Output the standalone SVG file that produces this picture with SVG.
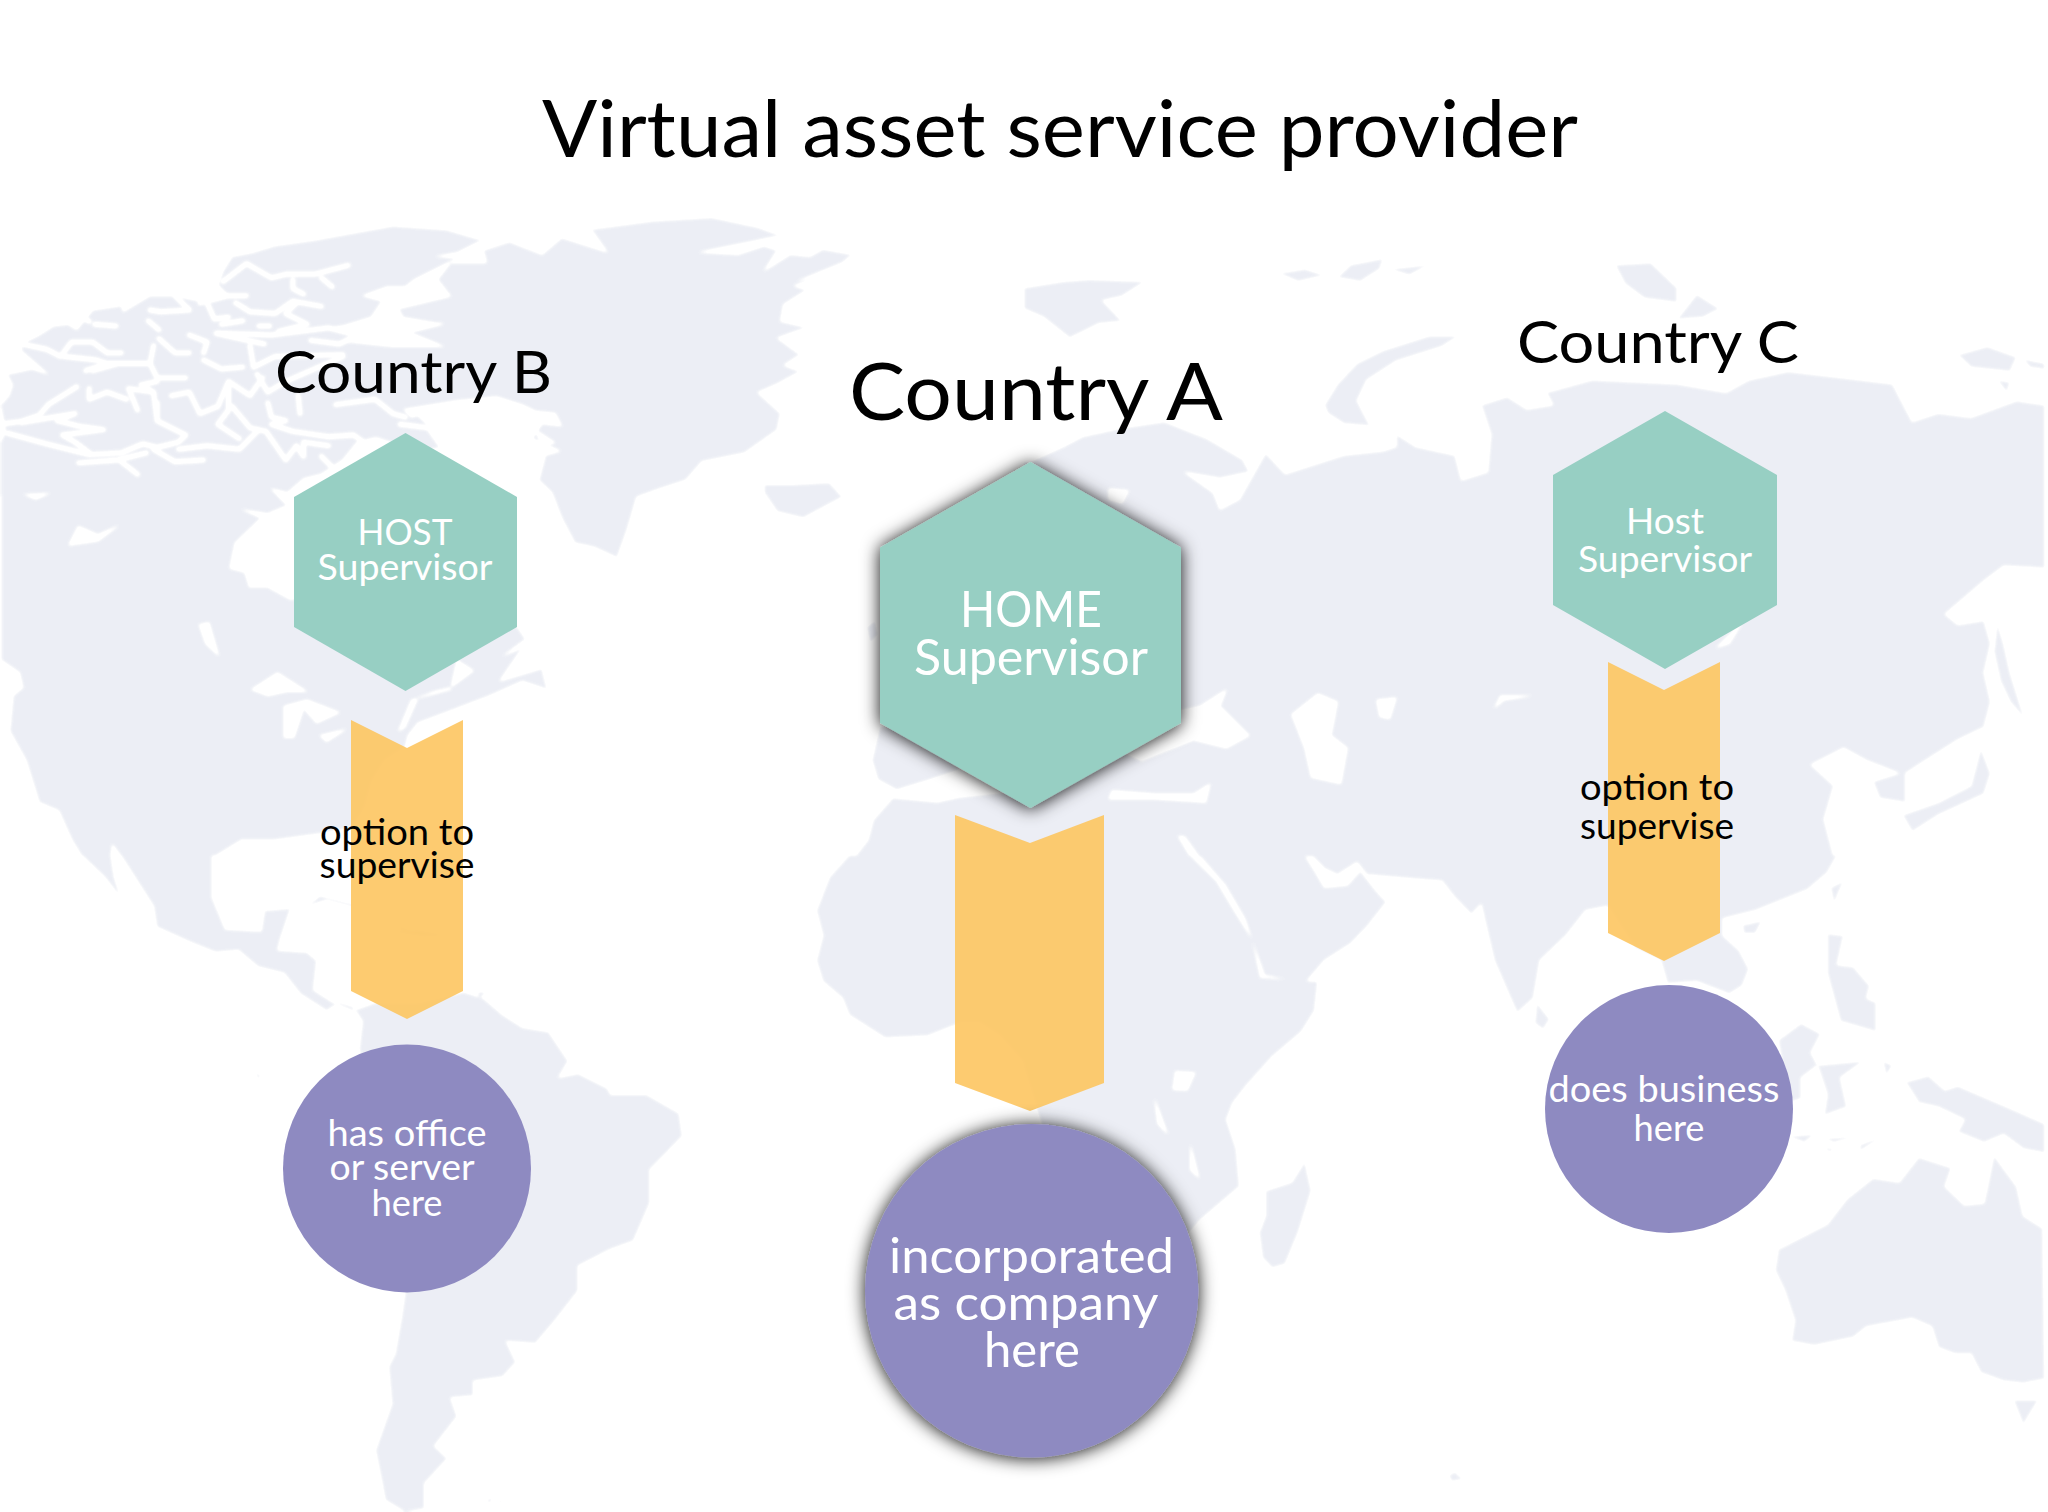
<svg xmlns="http://www.w3.org/2000/svg" width="2048" height="1512" viewBox="0 0 2048 1512">
<style>
.land{fill:#e9ecf3}
.sea{fill:#fff}
.ch{fill:none;stroke:#fff;stroke-width:11;stroke-linejoin:round;stroke-linecap:round}
.hex{fill:#97cfc3}
.arrow{fill:#fdc561;fill-opacity:.9}
.blob{fill:#8e8ac1}
text{font-family:"Lato","Open Sans","Liberation Sans",sans-serif;text-anchor:middle}
.w{fill:#fff}
.k{fill:#000}
</style>
<defs>
<filter id="sh" x="-20%" y="-20%" width="140%" height="140%"><feDropShadow dx="0" dy="1" stdDeviation="9" flood-color="#111" flood-opacity=".95"/></filter>
<filter id="coast" filterUnits="userSpaceOnUse" x="0" y="0" width="2048" height="1512" color-interpolation-filters="sRGB">
<feGaussianBlur stdDeviation="1.4"/>
<feColorMatrix type="matrix" values="0 0 0 0 .914  0 0 0 0 .925  0 0 0 0 .953  -20 0 0 0 19.14"/>
</filter>
</defs>
<rect width="2048" height="1512" fill="#fff"/>
<g id="map" filter="url(#coast)">
<rect class="sea" width="2048" height="1512"/>
<g transform="translate(0 200) scale(.6531 .41837)">
<path class="land" d="M640,515 660,545 680,590 650,600 640,620 610,600 600,580 560,560 520,600 490,640 470,660 440,700 415,690 440,730 410,750 370,740 400,760 380,790 360,820 352,880 375,890 382,925 410,925 445,955 600,900 792,1020 805,1050 770,1090 800,1070 765,1150 830,1120 838,1170 800,1150 750,1185 700,1215 640,1250 625,1280 620,1310 590,1340 570,1390 560,1450 540,1500 490,1515 420,1530 370,1530 330,1568 185,1568 172,1540 170,1568 125,1568 110,1530 90,1460 60,1440 40,1340 15,1270 20,1185 35,1165 30,1130 2,1100 2,590 400,610Z"/>
<path class="land" d="M1000,50 1090,42 1160,65 1195,85 1150,100 1070,125 1130,130 1170,110 1190,120 1170,170 1210,130 1240,135 1260,118 1305,130 1290,150 1220,195 1255,185 1215,205 1235,215 1200,250 1195,290 1235,305 1190,330 1225,370 1200,395 1225,410 1190,440 1160,460 1195,510 1190,550 1140,605 1075,625 1050,670 1010,690 975,710 960,790 945,855 910,830 880,820 860,760 845,700 825,670 835,610 858,600 815,570 830,535 860,540 850,510 820,505 800,490 760,470 700,480 620,500 560,480 510,490 470,470 440,450 420,470 410,420 430,370 470,345 540,340 600,350 680,350 625,315 680,295 620,290 610,260 690,230 670,190 690,150 745,150 740,120 780,100 830,130 860,90 930,125 905,70Z"/>
<path class="land" d="M1170,680 1215,680 1270,675 1290,710 1230,760 1190,745 1170,700Z M1327,1020 1340,1004 1345,1040 1332,1060Z M1347,1257 1335,1339 1344,1386 1373,1410 1424,1386 1470,1362 1470,1267Z M1367,1429 1337,1482 1329,1530 1310,1568 1570,1568 1570,1410 1470,1427 1435,1439Z"/>
<path class="sea" d="M20,660 90,670 85,695 55,715 30,700Z M105,825 120,780 150,800 182,778 150,815Z M305,1015 320,1010 335,1090 315,1060Z M385,1170 425,1130 470,1175 440,1175 410,1185Z M435,1210 470,1195 520,1225 485,1250 465,1215 450,1285 435,1285Z M490,1280 530,1265 500,1295Z M700,1100 725,1125 690,1165 665,1175 640,1190 620,1260 610,1270 630,1195 690,1170Z M820,550 850,580 830,590Z"/>
</g>
<g transform="translate(0 210) scale(.35714)">
<path class="land" d="M2,800 2,650 15,620 2,545 25,520 35,490 20,460 90,445 135,460 60,395 60,375 110,350 150,325 190,320 215,335 260,280 340,268 345,285 420,240 490,240 580,260 640,240 610,210 625,170 650,130 705,120 770,100 880,85 960,70 1100,45 1250,55 1350,85 1280,120 1220,130 1280,135 1160,195 1135,215 1085,215 1015,240 1070,255 1040,300 960,325 920,330 1000,348 990,365 940,378 1000,420 1170,600 1100,625 1000,650 960,700 900,740 820,760Z"/>
<path class="sea" d="M1040,300 1110,280 1125,300 1240,320 1140,345 1180,372 1000,365 990,345Z"/>
<path class="ch" d="M0,600 60,592 110,575 135,545 215,495 M60,595 210,570 160,590 220,605 290,615 175,630 210,650 250,680 M20,625 130,655 250,685 340,680 400,655 440,665 500,650 520,630 440,590 440,540 M220,708 330,700 410,680 M340,705 385,740 M430,670 490,705 570,700 M500,670 580,660 670,670 M440,590 430,510 395,490 440,480 M430,510 360,500 385,560 M250,500 250,530 300,510 355,530 M480,520 530,510 560,570 610,550 640,480 700,520 735,470 M640,480 640,560 610,600 670,640 M650,550 700,610 745,620 800,700 M670,670 720,620 M750,540 760,580 800,590 760,600 820,620 920,635 990,630 1040,665 M720,460 750,510 800,480 960,410 M835,520 840,570 M940,545 1050,530 1100,570 1135,580 M1120,600 1200,610 1235,660 M800,700 830,660 850,690 850,650 920,660 M900,690 930,720 M60,375 130,390 170,410 200,370 260,370 300,400 340,400 M180,410 270,420 300,430 240,450 M300,430 420,430 430,380 M260,450 330,430 400,430 M420,430 440,470 520,470 M445,360 490,400 530,400 M530,350 580,370 570,400 M570,420 620,445 680,440 M605,345 670,360 740,375 M700,380 710,440 770,410 960,405 M640,240 560,260 M580,260 600,305 640,300 M490,240 530,280 450,285 420,280 M690,240 620,240 M660,260 700,285 770,290 820,255 900,270 M830,260 800,290 860,320 780,340 M620,320 680,310 M610,345 760,350 920,330 1000,350 950,375 870,365 M625,200 690,150 760,190 800,180 880,180 975,155 M900,190 930,215 M820,195 820,220 850,235 M230,300 250,312 M265,320 325,325 M415,310 445,335 M725,325 755,325"/>
</g>
<g transform="translate(1024 200) scale(.6531 .41837)">
<path class="land" d="M0,210 60,195 100,190 185,195 150,230 120,240 150,290 115,295 70,330 30,280 0,260Z M460,490 480,440 510,390 550,360 620,325 665,325 640,350 570,385 525,430 510,480 530,540 490,535 465,510Z M390,175 430,165 460,180 420,195Z M480,185 500,155 550,140 545,165 515,195Z M560,165 620,155 590,180Z M905,155 960,150 1000,210 1000,245 950,235 920,200Z M1000,285 1030,225 1065,260 1040,280Z M1430,370 1475,350 1520,375 1510,410 1450,400Z M1530,380 1563,390 1563,405 1540,400Z M1490,430 1510,435 1505,460Z M1485,1080 1490,1010 1500,1060 1510,1130 1532,1240 1510,1200 1495,1150Z M1345,1470 1400,1440 1450,1400 1465,1310 1480,1370 1470,1420 1400,1470 1360,1510Z"/>
<path class="land" d="M-2,625 10,625 60,590 90,565 150,545 215,530 280,570 335,620 345,650 300,665 245,650 290,700 300,740 330,715 350,660 370,605 400,655 430,640 490,610 550,600 570,590 570,560 600,590 660,610 670,670 710,650 715,560 700,490 740,470 770,500 810,490 800,460 870,430 1000,440 1075,460 1110,430 1170,410 1280,430 1330,440 1360,530 1400,510 1450,520 1520,480 1563,490 1563,880 1500,875 1470,910 1440,950 1410,990 1430,1015 1470,1005 1480,1060 1470,1130 1480,1200 1470,1260 1430,1290 1380,1340 1350,1370 1350,1440 1310,1430 1300,1390 1340,1370 1290,1340 1255,1310 1205,1350 1240,1400 1225,1480 1240,1570 -2,1570Z"/>
<path class="sea" d="M270,1210 310,1170 300,1210 345,1280 310,1310 260,1290 180,1340 140,1310 190,1240 Z M410,1230 450,1180 480,1200 470,1280 495,1310 485,1395 440,1380 430,1310Z M540,1195 570,1190 560,1240 545,1235Z M720,1215 730,1185 778,1185 735,1195Z M1060,1070 1100,1010 1080,1060Z M130,690 160,695 150,725 130,715Z M135,1412 200,1420 260,1420 285,1395 278,1440 262,1438 200,1432 130,1432Z M236,1520 246,1522 268,1570 255,1570Z"/>
</g>
<g transform="translate(0 856) scale(.6531 .41837)">
<path class="land" d="M125,-2 160,50 185,100 175,50 170,-2ZM185,-2 235,120 240,170 290,205 330,230 365,225 395,265 435,280 460,330 500,370 520,350 540,360 555,395 550,460 620,1045 615,1100 605,1190 595,1220 600,1310 575,1420 590,1540 620,1568 650,1560 650,1500 685,1440 665,1410 700,1340 690,1295 725,1290 725,1255 770,1245 790,1210 775,1160 820,1165 850,1110 885,1040 885,980 935,940 970,920 995,830 995,750 1020,710 1045,670 1040,615 990,570 935,570 930,555 885,520 855,530 870,490 840,420 800,410 770,380 740,340 710,325 640,350 575,350 540,370 510,350 480,320 485,250 470,230 425,225 430,195 445,125 405,130 400,180 345,175 325,100 325,-2Z"/>
<path class="land" d="M1300,-2 1270,50 1250,130 1260,190 1250,250 1260,300 1290,340 1300,380 1355,435 1420,430 1470,400 1500,400 1530,430 1570,500 1570,-2Z M470,120 490,95 540,115 590,150 640,185 620,180 560,130 500,105Z M590,180 640,175 690,190 650,195Z M390,515 400,525 395,535Z M745,1540 755,1530 750,1550Z M765,1540 778,1535 760,1552Z M730,325 745,325 735,340Z"/>
</g>
<g transform="translate(1024 856) scale(.6531 .41837)">
<path class="land" d="M-2,-2 -2,500 30,660 200,1000 270,870 300,830 330,790 325,700 310,630 320,590 340,550 380,480 425,420 445,370 450,300 362,290 350,200 322,130 295,60 255,-2Z"/>
<path class="land" d="M268,-2 308,70 338,150 368,285 430,305 460,250 500,210 525,170 555,110 540,85 515,35 495,70 460,75 445,35 430,-2Z M440,-2 460,30 480,45 510,15 525,45 600,55 640,60 660,100 685,140 700,115 705,150 720,250 745,340 755,375 780,340 790,250 830,190 860,130 893,120 935,220 975,250 985,305 1030,300 1080,330 1100,310 1110,270 1095,225 1070,190 1070,150 1120,130 1160,105 1200,80 1230,40 1245,-2Z M785,350 805,390 795,415 782,400Z M1100,165 1130,155 1120,185 1102,185Z M1235,75 1255,60 1240,115Z M1155,440 1190,400 1220,425 1205,470 1215,500 1190,530 1190,580 1170,590Z M1230,185 1255,190 1245,260 1270,265 1295,310 1290,340 1305,350 1305,420 1250,395 1230,280Z M1215,500 1285,490 1250,530 1260,600 1225,620 1230,570Z M1315,490 1330,500 1320,525Z M1350,540 1385,525 1410,560 1430,550 1520,610 1563,640 1563,710 1530,700 1500,665 1470,685 1430,660 1440,630 1400,600 1370,590Z M1170,670 1210,665 1195,685Z M1225,675 1275,670 1240,685Z M1280,690 1315,670 1280,705Z M1220,695 1240,700 1235,708Z M650,1480 660,1472 672,1490 655,1495Z M480,290 490,292 480,297Z M1515,1300 1553,1300 1530,1360Z M1155,940 1230,880 1260,820 1300,770 1340,780 1370,720 1420,745 1410,790 1440,835 1470,830 1485,715 1520,790 1530,860 1560,890 1563,1250 1530,1260 1500,1255 1465,1235 1450,1190 1425,1190 1400,1175 1390,1125 1360,1105 1290,1125 1270,1150 1210,1170 1175,1160 1180,1110 1165,1040 1150,990Z"/>
<path class="land" d="M430,730 440,800 420,900 400,975 380,985 365,960 360,900 370,860 370,800 410,780Z"/>
<path class="sea" d="M232,515 262,518 250,560 228,558Z M200,580 220,665 205,640Z M255,690 268,770 255,750Z"/>
</g>
</g>
<g id="connectors">
<polygon id="arrow-b" class="arrow" points="351,720 407,748 463,720 463,991 407,1019 351,991"/>
<polygon id="arrow-a" class="arrow" points="955,815 1030,843 1104,815 1104,1083 1030,1111 955,1083"/>
<polygon id="arrow-c" class="arrow" points="1608,662 1664,690 1720,662 1720,933 1664,961 1608,933"/>
</g>
<text id="title" class="k" x="1060" y="157" font-size="80" textLength="1036" lengthAdjust="spacingAndGlyphs">Virtual asset service provider</text>
<g id="node-country-b"><text class="k" x="413.500" y="393" font-size="58" textLength="277" lengthAdjust="spacingAndGlyphs">Country B</text></g>
<g id="node-country-a"><text class="k" x="1036" y="420" font-size="79" textLength="374" lengthAdjust="spacingAndGlyphs">Country A</text></g>
<g id="node-country-c"><text class="k" x="1658" y="363" font-size="58" textLength="282" lengthAdjust="spacingAndGlyphs">Country C</text></g>
<g id="node-host-b">
<polygon class="hex" points="405.500,433 517,497 517,627 405.500,691 294,627 294,497"/>
<text class="w" x="405" y="545" font-size="36" textLength="95" lengthAdjust="spacingAndGlyphs">HOST</text>
<text class="w" x="405" y="580" font-size="36" textLength="175" lengthAdjust="spacingAndGlyphs">Supervisor</text>
</g>
<g id="node-home-a">
<polygon class="hex" filter="url(#sh)" points="1030.500,462 1181,547.500 1181,723 1030.500,808 880,723 880,547.500"/>
<text class="w" x="1031" y="627" font-size="50" textLength="142" lengthAdjust="spacingAndGlyphs">HOME</text>
<text class="w" x="1031" y="675" font-size="50" textLength="234" lengthAdjust="spacingAndGlyphs">Supervisor</text>
</g>
<g id="node-host-c">
<polygon class="hex" points="1665,411 1777,475 1777,605 1665,669 1553,605 1553,475"/>
<text class="w" x="1665" y="534" font-size="36" textLength="78" lengthAdjust="spacingAndGlyphs">Host</text>
<text class="w" x="1665" y="572" font-size="36" textLength="174" lengthAdjust="spacingAndGlyphs">Supervisor</text>
</g>
<g id="node-label-b">
<text class="k" x="397" y="845" font-size="36" textLength="154" lengthAdjust="spacingAndGlyphs">option to</text>
<text class="k" x="397" y="878" font-size="36" textLength="155" lengthAdjust="spacingAndGlyphs">supervise</text>
</g>
<g id="node-label-c">
<text class="k" x="1657" y="800" font-size="36" textLength="154" lengthAdjust="spacingAndGlyphs">option to</text>
<text class="k" x="1657" y="839" font-size="36" textLength="154" lengthAdjust="spacingAndGlyphs">supervise</text>
</g>
<g id="node-office-b">
<circle class="blob" cx="407" cy="1168.500" r="124"/>
<text class="w" x="407" y="1146" font-size="36" textLength="159" lengthAdjust="spacingAndGlyphs">has office</text>
<text class="w" x="402" y="1180" font-size="36" textLength="145" lengthAdjust="spacingAndGlyphs">or server</text>
<text class="w" x="407" y="1216" font-size="36" textLength="71" lengthAdjust="spacingAndGlyphs">here</text>
</g>
<g id="node-company-a">
<circle class="blob" filter="url(#sh)" cx="1031.700" cy="1290.700" r="166.700"/>
<text class="w" x="1031.500" y="1273" font-size="49" textLength="285" lengthAdjust="spacingAndGlyphs">incorporated</text>
<text class="w" x="1026" y="1320" font-size="49" textLength="265" lengthAdjust="spacingAndGlyphs">as company</text>
<text class="w" x="1032" y="1367" font-size="49" textLength="96" lengthAdjust="spacingAndGlyphs">here</text>
</g>
<g id="node-business-c">
<circle class="blob" cx="1669" cy="1109" r="124"/>
<text class="w" x="1664" y="1102" font-size="36" textLength="231" lengthAdjust="spacingAndGlyphs">does business</text>
<text class="w" x="1669" y="1141" font-size="36" textLength="71" lengthAdjust="spacingAndGlyphs">here</text>
</g>
</svg>
